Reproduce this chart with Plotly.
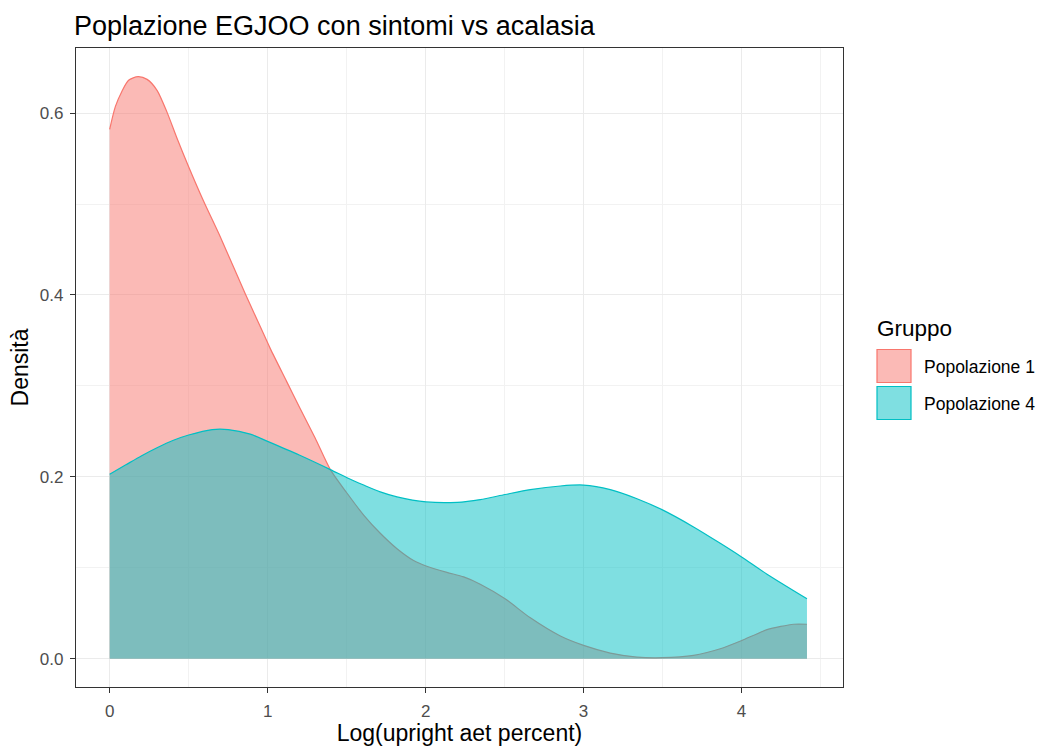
import plotly.graph_objects as go

# ---- data ----
pop1_x = [0, 0.036, 0.078, 0.12, 0.18, 0.237, 0.3, 0.363, 0.427, 0.5, 0.595, 0.7, 0.859,
          0.954, 1.017, 1.12, 1.2, 1.3, 1.397, 1.503, 1.608, 1.713, 1.819, 1.924, 2.003,
          2.135, 2.241, 2.346, 2.503, 2.663, 2.853, 3.0, 3.169, 3.338, 3.496, 3.696, 3.865,
          4.0, 4.161, 4.33, 4.414]
pop1_y = [0.582, 0.607, 0.624, 0.636, 0.640, 0.637, 0.625, 0.601, 0.572, 0.541, 0.503,
          0.464, 0.401, 0.365, 0.341, 0.305, 0.277, 0.243, 0.208, 0.182, 0.158, 0.138,
          0.121, 0.108, 0.102, 0.095, 0.090, 0.082, 0.066, 0.045, 0.025, 0.0147, 0.0063,
          0.0019, 0.0012, 0.0037, 0.011, 0.020, 0.032, 0.038, 0.038]
pop4_x = [0, 0.1, 0.2, 0.3, 0.4, 0.5, 0.65, 0.75, 0.89, 1.0, 1.2, 1.397, 1.503, 1.608,
          1.713, 1.819, 2.003, 2.2, 2.346, 2.503, 2.663, 2.853, 3.0, 3.169, 3.338, 3.496,
          3.696, 3.865, 4.0, 4.161, 4.414]
pop4_y = [0.203, 0.213, 0.223, 0.232, 0.240, 0.246, 0.252, 0.252, 0.247, 0.239, 0.224,
          0.208, 0.199, 0.191, 0.1835, 0.178, 0.1725, 0.172, 0.175, 0.1806, 0.186, 0.190,
          0.191, 0.186, 0.176, 0.164, 0.145, 0.127, 0.112, 0.093, 0.066]
groups = ["Popolazione 1", "Popolazione 4"]
x_ticks = [0, 1, 2, 3, 4]
y_ticks = [0.0, 0.2, 0.4, 0.6]

RED = "#F8766D"
TEAL = "#00BFC4"
RED_FILL = "rgba(248,118,109,0.5)"
TEAL_FILL = "rgba(0,191,196,0.5)"
FONT = "Liberation Sans, Arial"

W, H = 1041, 747
L, R, T, B = 76, 198, 48, 60

fig = go.Figure()
fig.add_trace(go.Scatter(x=pop1_x, y=pop1_y, mode="lines", fill="tozeroy",
                         fillcolor=RED_FILL,
                         line=dict(color=RED, width=1.2, shape="spline", smoothing=0.7),
                         name=groups[0], showlegend=False, hoverinfo="skip"))
fig.add_trace(go.Scatter(x=pop4_x, y=pop4_y, mode="lines", fill="tozeroy",
                         fillcolor=TEAL_FILL,
                         line=dict(color=TEAL, width=1.2, shape="spline", smoothing=0.7),
                         name=groups[1], showlegend=False, hoverinfo="skip"))

axis_common = dict(showline=True, linecolor="#333333", linewidth=1.2, mirror=True,
                   ticks="outside", ticklen=5, tickcolor="#333333", tickwidth=1.1,
                   tickfont=dict(family=FONT, size=17, color="#4D4D4D"),
                   showgrid=True, gridcolor="#EBEBEB", gridwidth=1.2, zeroline=False,
                   automargin=False)

fig.update_xaxes(range=[-0.213, 4.642], tickvals=x_ticks, ticktext=[str(v) for v in x_ticks],
                 minor=dict(dtick=0.5, tick0=0.5, showgrid=True, gridcolor="#F2F2F2",
                            gridwidth=0.8, ticks=""),
                 ticklabelstandoff=3,
                 title=dict(text="Log(upright aet percent)", standoff=4,
                            font=dict(family=FONT, size=23, color="black")),
                 **axis_common)
fig.update_yaxes(range=[-0.031, 0.6715], tickvals=y_ticks, ticktext=[f"{v:.1f}" for v in y_ticks],
                 minor=dict(dtick=0.1, tick0=0.1, showgrid=True, gridcolor="#F2F2F2",
                            gridwidth=0.8, ticks=""),
                 ticklabelstandoff=3,
                 title=dict(text="Densità", standoff=4,
                            font=dict(family=FONT, size=23, color="black")),
                 **axis_common)

# manual legend (ggplot style)
def px_x(p):
    return (p - L) / (W - L - R)

def px_y(p):
    return 1 - (p - T) / (H - T - B)

shapes = []
annotations = []
annotations.append(dict(x=px_x(875), y=px_y(328), xref="paper", yref="paper", text="Gruppo",
                        showarrow=False, xanchor="left", yanchor="middle",
                        font=dict(family=FONT, size=22.5, color="black")))
keys = [(groups[0], RED, RED_FILL, 349.5, 382.5), (groups[1], TEAL, TEAL_FILL, 386.5, 419.5)]
for name, lc, fc, y0, y1 in keys:
    shapes.append(dict(type="rect", xref="paper", yref="paper", x0=px_x(877), x1=px_x(911),
                       y0=px_y(y1), y1=px_y(y0), fillcolor=fc, line=dict(color=lc, width=1.2)))
    annotations.append(dict(x=px_x(922), y=px_y((y0 + y1) / 2 + 1), xref="paper", yref="paper",
                            text=name, showarrow=False, xanchor="left", yanchor="middle",
                            font=dict(family=FONT, size=17.5, color="black")))

fig.update_layout(
    width=W, height=H,
    margin=dict(l=L, r=R, t=T, b=B),
    plot_bgcolor="white", paper_bgcolor="white",
    title=dict(text="Poplazione EGJOO con sintomi vs acalasia", x=74 / W, xanchor="left",
               xref="container", y=1 - 26 / H, yref="container", yanchor="middle",
               font=dict(family=FONT, size=27, color="black")),
    shapes=shapes, annotations=annotations,
    showlegend=False,
)

fig.write_html("out.html")
